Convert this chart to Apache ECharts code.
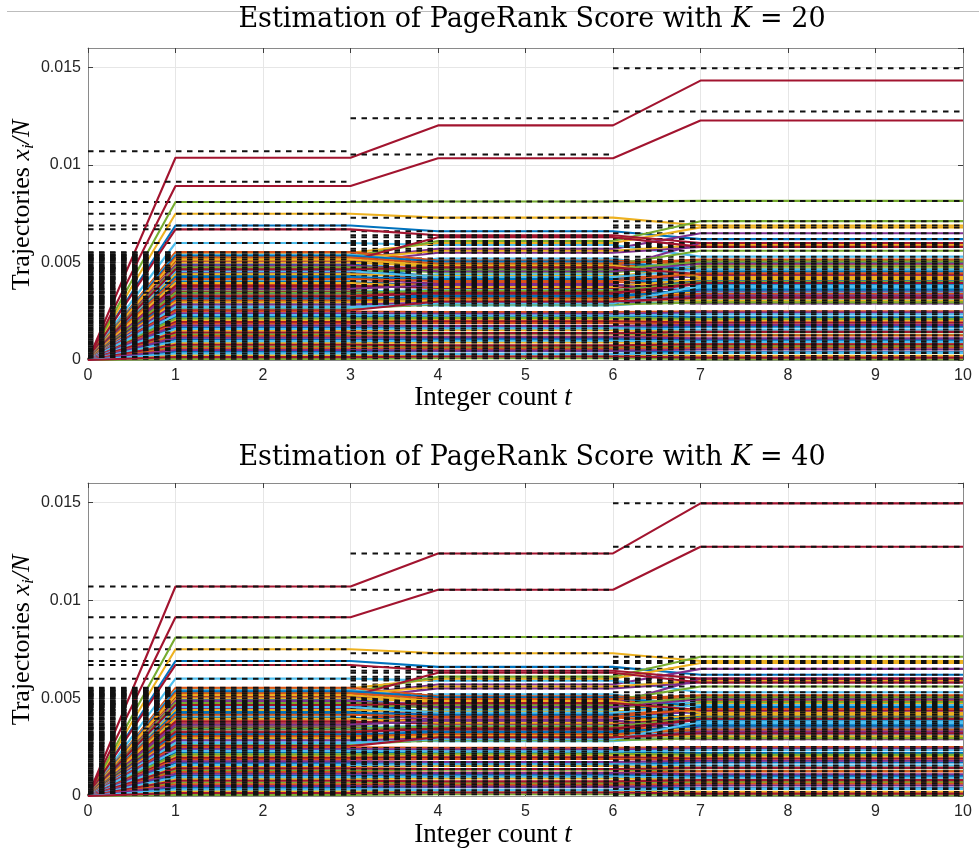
<!DOCTYPE html>
<html><head><meta charset="utf-8">
<script src="https://cdn.jsdelivr.net/npm/echarts@6/dist/echarts.min.js"></script>
<style>html,body{margin:0;padding:0;background:#fff}#c{width:979px;height:852px}</style>
</head><body><div id="c"></div>
<script>
// ---------------- data ----------------
const xTickLabels = ['0','1','2','3','4','5','6','7','8','9','10'];
const yTickLabels = ['0','0.005','0.01','0.015'];
const yTickStep = 0.005;
const yMax = 0.016;
const knotTimes = [0, 1, 3, 4, 6, 7, 10];   // trajectory break points
const startValue = 0;                       // every trajectory starts at 0
const segStart = [0, 3, 6];                 // true-value (dashed) segments
const segEnd = [3, 6, 10];
const kValues = [20, 40];

// true scores on [0,3], [3,6], [6,10] (also K=40 trajectory plateaus)
const trueT1 = [
 .00690,.00540,.00750,.00520,.00810,.00600,.01071,
 .00490,.00510,.00550,.00500,.00530,.00470,.00914,
 .00460,.00553,.00520,.00480,.00440,.00410,.00670,
 .00430,.00390,.00500,.00450,.00470,.00540,.00510,
 .00400,.00370,.00440,.00420,.00360,.00350,.00380,
 .00340,.00330,.00320,.00310,.00300,.00290,.00350,
 .00535,.00525,.00515,.00485,.00475,.00455,.00465,
 .00425,.00415,.00395,.00365,.00345,.00275,.00325,
 .00315,.00305,.00295,.00285,.00265,.00270,.00255,
 .00222,.00249,.00204,.00240,.00213,.00231,.00195,
 .00168,.00186,.00150,.00177,.00132,.00159,.00141,
 .00105,.00123,.00087,.00114,.00069,.00096,.00078,
 .00042,.00060,.00024,.00051,.00006,.00033,.00015
];
const trueT2 = [
 .00660,.00500,.00730,.00570,.00813,.00590,.01240,
 .00460,.00490,.00600,.00550,.00610,.00520,.01054,
 .00430,.00510,.00560,.00470,.00490,.00440,.00640,
 .00470,.00420,.00480,.00410,.00450,.00500,.00630,
 .00380,.00400,.00430,.00390,.00340,.00360,.00370,
 .00330,.00350,.00310,.00300,.00320,.00280,.00340,
 .00505,.00495,.00485,.00455,.00465,.00425,.00475,
 .00415,.00405,.00375,.00385,.00355,.00295,.00345,
 .00325,.00315,.00305,.00295,.00285,.00290,.00300,
 .00225,.00246,.00207,.00237,.00216,.00228,.00198,
 .00165,.00189,.00153,.00174,.00135,.00162,.00138,
 .00108,.00120,.00090,.00117,.00066,.00099,.00075,
 .00045,.00057,.00027,.00048,.00009,.00030,.00018
];
const trueT3 = [
 .00620,.00510,.00690,.00650,.00816,.00530,.01496,
 .00500,.00470,.00680,.00580,.00712,.00450,.01274,
 .00400,.00490,.00590,.00600,.00560,.00380,.00600,
 .00420,.00440,.00460,.00430,.00480,.00470,.00580,
 .00410,.00390,.00470,.00320,.00300,.00370,.00400,
 .00360,.00340,.00350,.00290,.00330,.00310,.00390,
 .00455,.00515,.00425,.00495,.00505,.00465,.00440,
 .00385,.00445,.00415,.00350,.00400,.00345,.00395,
 .00360,.00340,.00305,.00330,.00295,.00380,.00320,
 .00219,.00250,.00201,.00243,.00210,.00234,.00192,
 .00171,.00183,.00147,.00180,.00129,.00156,.00144,
 .00102,.00126,.00084,.00111,.00072,.00093,.00081,
 .00039,.00063,.00021,.00054,.00004,.00036,.00012
];
// K=20 estimates that visibly differ from the true scores
const k20Nodes = [6, 13];
const k20T1 = [.01037, .00892];
const k20T2 = [.01203, .01035];
const k20T3 = [.01433, .01228];

// ---------------- styling ----------------
const palette = ['#0072BD','#D95319','#EDB120','#7E2F8E','#77AC30','#4DBEEE','#A2142F'];
const grids = [
  {left: 88, top: 48, width: 875, height: 312},
  {left: 88, top: 483, width: 875, height: 313}
];
const axisCol = '#8a8a8a', tickCol = '#404040', textCol = '#262626';

const chart = echarts.init(document.getElementById('c'), null, {renderer: 'canvas'});

function xAxes(gi) {
  const base = {gridIndex: gi, type: 'value', min: 0, max: 10, interval: 1};
  return [
    Object.assign({}, base, {
      position: 'bottom',
      axisLine: {show: true, onZero: false, lineStyle: {color: axisCol, width: 1}},
      axisTick: {show: true, inside: true, length: 5, lineStyle: {color: tickCol}},
      axisLabel: {show: true, margin: 8, color: textCol, fontFamily: 'Liberation Sans', fontSize: 16,
        formatter: v => xTickLabels[Math.round(v)] || ''},
      splitLine: {show: true, lineStyle: {color: '#e6e6e6', width: 1}}
    }),
    Object.assign({}, base, {
      position: 'top',
      axisLine: {show: true, onZero: false, lineStyle: {color: axisCol, width: 1}},
      axisTick: {show: true, inside: true, length: 5, lineStyle: {color: tickCol}},
      axisLabel: {show: false},
      splitLine: {show: false}
    })
  ];
}
function yAxes(gi) {
  const base = {gridIndex: gi, type: 'value', min: 0, max: yMax, interval: yTickStep};
  const fmt = v => {
    const i = Math.round(v / yTickStep);
    return (Math.abs(v - i * yTickStep) < 1e-9 && i < yTickLabels.length) ? yTickLabels[i] : '';
  };
  return [
    Object.assign({}, base, {
      position: 'left',
      axisLine: {show: true, onZero: false, lineStyle: {color: axisCol, width: 1}},
      axisTick: {show: true, inside: true, length: 5, lineStyle: {color: tickCol}},
      axisLabel: {show: true, margin: 7, color: textCol, fontFamily: 'Liberation Sans', fontSize: 16,
        formatter: fmt, showMaxLabel: false},
      splitLine: {show: true, lineStyle: {color: '#e6e6e6', width: 1}}
    }),
    Object.assign({}, base, {
      position: 'right',
      axisLine: {show: true, onZero: false, lineStyle: {color: axisCol, width: 1}},
      axisTick: {show: true, inside: true, length: 5, lineStyle: {color: tickCol}},
      axisLabel: {show: false},
      splitLine: {show: false}
    })
  ];
}

function valueFor(plot, arrTrue, arrK20, i) {
  if (plot === 0) {
    const j = k20Nodes.indexOf(i);
    if (j >= 0) return arrK20[j];
  }
  return arrTrue[i];
}

const series = [];
const N = trueT1.length;
const T = knotTimes;
// node by node: trajectory, then its dashed true value
for (let p = 0; p < 2; p++) {
  const xi = 2 * p, yi = 2 * p;
  for (let i = 0; i < N; i++) {
    const a = valueFor(p, trueT1, k20T1, i);
    const b = valueFor(p, trueT2, k20T2, i);
    const c = valueFor(p, trueT3, k20T3, i);
    const vals = [startValue, a, a, b, b, c, c];
    series.push({
      type: 'line', xAxisIndex: xi, yAxisIndex: yi, silent: true, animation: false,
      symbol: 'none', z: 2,
      lineStyle: {color: palette[i % 7], width: 2.1},
      data: T.map((t, k) => [t, vals[k]])
    });
    series.push({
      type: 'line', xAxisIndex: xi, yAxisIndex: yi, silent: true, animation: false,
      symbol: 'none', z: 2, connectNulls: false,
      lineStyle: {color: '#111', width: 2, type: [5.5, 5.5]},
      data: [[segStart[0], trueT1[i]], [segEnd[0], trueT1[i]], [segEnd[0], '-'],
             [segStart[1], trueT2[i]], [segEnd[1], trueT2[i]], [segEnd[1], '-'],
             [segStart[2], trueT3[i]], [segEnd[2], trueT3[i]]]
    });
  }
}

function titleEl(y, k) {
  return {
    type: 'text', x: 532, y: y, silent: true,
    style: {
      text: '{a|Estimation of PageRank Score with }{k|K}{a| = ' + k + '}',
      align: 'center', verticalAlign: 'middle',
      rich: {
        a: {fontFamily: 'DejaVu Serif', fontSize: 27, fill: '#000'},
        k: {fontFamily: 'DejaVu Serif', fontStyle: 'italic', fontSize: 27, fill: '#000'}
      }
    }
  };
}
function xLabelEl(y) {
  return {
    type: 'text', x: 493, y: y, silent: true,
    style: {
      text: '{a|Integer count }{i|t}',
      align: 'center', verticalAlign: 'middle',
      rich: {
        a: {fontFamily: 'Liberation Serif', fontSize: 27, fill: '#000'},
        i: {fontFamily: 'Liberation Serif', fontStyle: 'italic', fontSize: 27, fill: '#000'}
      }
    }
  };
}
function yLabelEl(y) {
  return {
    type: 'text', x: 22, y: y, rotation: Math.PI / 2, silent: true,
    style: {
      text: '{a|Trajectories }{m|x}{s|i}{m|/N}',
      align: 'center', verticalAlign: 'middle',
      rich: {
        a: {fontFamily: 'Liberation Serif', fontSize: 26, lineHeight: 30, fill: '#000'},
        m: {fontFamily: 'Liberation Serif', fontStyle: 'italic', fontSize: 26, lineHeight: 30, fill: '#000'},
        s: {fontFamily: 'Liberation Serif', fontStyle: 'italic', fontSize: 17, lineHeight: 17, verticalAlign: 'bottom', fill: '#000'}
      }
    }
  };
}

chart.setOption({
  animation: false,
  backgroundColor: '#fff',
  grid: grids.map(g => Object.assign({containLabel: false, outerBoundsMode: 'none'}, g)),
  xAxis: xAxes(0).concat(xAxes(1)),
  yAxis: yAxes(0).concat(yAxes(1)),
  series: series,
  graphic: [
    {type: 'line', silent: true, shape: {x1: 7, y1: 11.5, x2: 979, y2: 11.5}, style: {stroke: '#bdbdbd', lineWidth: 1}},
    titleEl(20, kValues[0]), titleEl(458, kValues[1]),
    xLabelEl(398), xLabelEl(835),
    yLabelEl(205), yLabelEl(640)
  ]
});
</script>
</body></html>
